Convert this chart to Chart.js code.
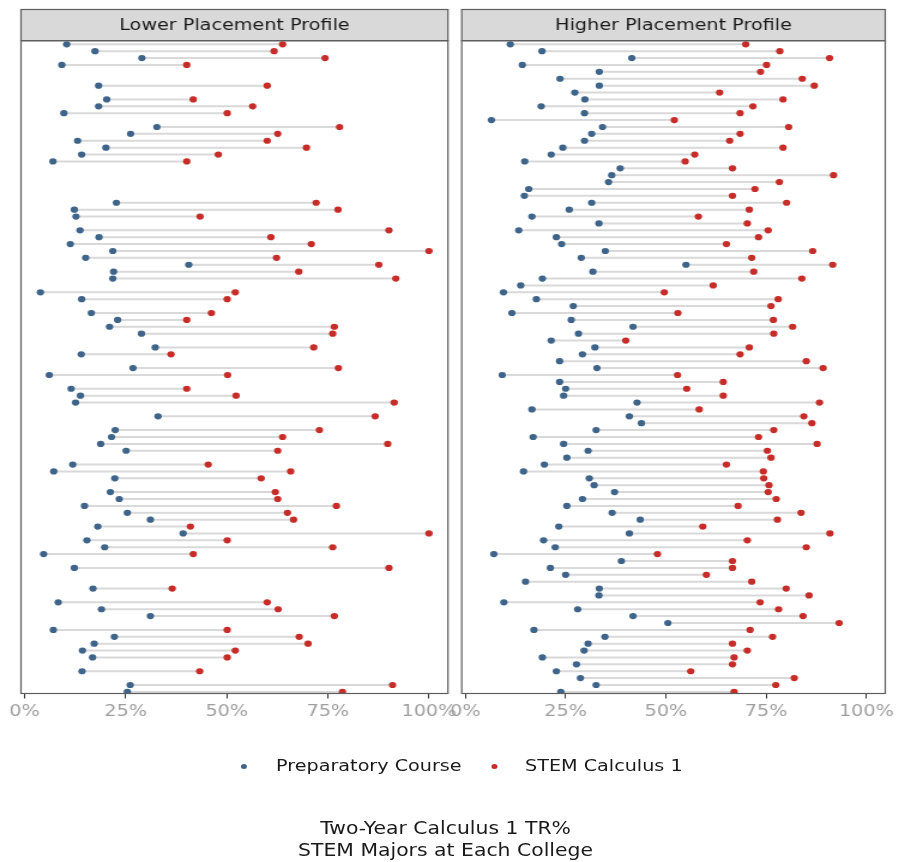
<!DOCTYPE html>
<html>
<head>
<meta charset="utf-8">
<script src="https://cdn.jsdelivr.net/npm/chart.js@4.4.1/dist/chart.umd.min.js"></script>
<style>
html,body{margin:0;padding:0;background:#fff;width:899px;height:862px;overflow:hidden;}
#stage{position:absolute;left:0;top:0;width:750px;height:862px;transform:scaleX(1.1987);transform-origin:0 0;font-family:"DejaVu Sans",sans-serif;color:#1a1a1a;}
canvas{position:absolute;top:0;}
#c1{left:0;width:390px;height:740px;}
#c2{left:365px;width:385px;height:740px;}
.dot{position:absolute;width:5px;height:5px;border-radius:50%;}
.lt{position:absolute;font-size:16px;line-height:20px;white-space:nowrap;}
#cap{position:absolute;left:0;top:817px;width:743.4px;text-align:center;font-size:17px;line-height:22px;}
</style>
</head>
<body>
<div id="stage">
  <canvas id="c1" width="390" height="740"></canvas>
  <canvas id="c2" width="385" height="740"></canvas>
  <div class="dot" style="left:201.1px;top:763.5px;background:#3e648a"></div>
  <div class="lt" style="left:230.3px;top:756px">Preparatory Course</div>
  <div class="dot" style="left:409.6px;top:763.5px;background:#c62d28"></div>
  <div class="lt" style="left:438px;top:756px">STEM Calculus 1</div>
  <div id="cap">Two-Year Calculus 1 TR%<br>STEM Majors at Each College</div>
</div>
<script>
// ---- data (percent), one entry per college row, top to bottom ----
const panelTitles = ["Lower Placement Profile", "Higher Placement Profile"];
const seriesNames = ["Preparatory Course", "STEM Calculus 1"];
const tickValues = [0, 25, 50, 75, 100];

const lowerPrep = [10.4,17.4,29.0,9.2,null,null,18.3,null,20.3,18.3,
  9.7,null,32.7,26.2,13.1,20.1,14.1,7.0,null,null,
  null,null,null,22.7,12.3,12.7,null,13.7,18.4,11.3,
  21.8,15.1,40.6,22.0,21.8,null,3.9,14.1,null,16.5,
  23.0,21.0,28.9,null,32.3,14.0,null,26.8,6.1,null,
  11.5,13.8,12.6,null,33.0,null,22.4,21.5,18.8,25.1,
  null,11.9,7.2,22.3,null,21.2,23.4,14.8,25.4,31.1,
  18.1,39.2,15.4,19.8,4.7,null,12.3,null,null,16.9,
  null,8.3,19.0,31.1,null,7.1,22.2,17.2,14.3,16.8,
  null,14.2,null,26.1,25.4];
const lowerStem = [63.8,61.7,74.3,40.1,null,null,60.0,null,41.7,56.4,
  50.1,null,77.9,62.6,60.0,69.7,47.9,40.1,null,null,
  null,null,null,72.1,77.5,43.4,null,90.1,60.9,70.9,
  100,62.3,87.6,67.8,91.8,null,52.1,50.1,null,46.2,
  40.1,76.6,76.2,null,71.5,36.2,null,77.6,50.2,null,
  40.1,52.3,91.4,null,86.7,null,72.9,63.8,89.8,62.6,
  null,45.4,65.8,58.5,null,62.0,62.6,77.1,65.0,66.5,
  41.0,100,50.1,76.2,41.7,null,90.1,null,null,36.5,
  null,60.0,62.7,76.6,null,50.1,67.9,70.1,52.1,50.1,
  null,43.3,null,91.0,78.6];
const higherPrep = [11.2,19.1,41.5,14.2,33.4,23.6,33.4,27.3,29.8,18.9,
  29.7,6.5,34.2,31.5,29.7,24.3,21.4,14.8,38.6,36.5,
  35.7,15.8,14.7,31.5,25.9,16.6,33.3,13.3,22.7,24.0,
  34.9,28.9,55.0,31.8,19.2,13.8,9.5,17.7,26.9,11.6,
  26.4,41.8,28.2,21.4,32.3,29.2,23.5,32.8,9.2,23.5,
  25.0,24.5,42.8,16.6,40.9,43.9,32.6,16.9,24.5,30.6,
  25.3,19.7,14.5,30.9,32.1,37.2,29.2,25.3,36.6,43.6,
  23.3,40.9,19.5,22.4,7.1,38.9,21.2,25.0,15.0,33.4,
  33.3,9.6,28.0,41.8,50.5,17.1,34.8,30.6,29.6,19.2,
  27.7,22.7,28.7,32.6,23.8];
const higherStem = [69.9,78.4,90.8,75.1,73.6,84.0,87.0,63.4,79.2,71.7,
  68.5,52.1,80.6,68.5,65.9,79.2,57.2,54.8,66.6,91.8,
  78.3,72.2,66.6,80.1,70.8,58.1,70.3,75.5,73.1,65.1,
  86.6,71.4,91.6,71.9,83.9,61.8,49.6,78.0,76.2,53.0,
  76.8,81.6,76.9,40.0,70.8,68.5,85.0,89.2,52.9,64.3,
  55.2,64.3,88.3,58.3,84.4,86.4,76.9,73.1,87.7,75.3,
  76.2,65.1,74.3,74.4,75.7,75.5,77.5,68.0,83.7,77.8,
  59.2,90.9,70.3,85.0,47.9,66.6,66.6,60.1,71.4,80.0,
  85.7,73.5,78.1,84.2,93.2,71.0,76.6,66.6,70.3,67.0,
  66.6,56.2,82.0,77.4,67.0];

// ---- styles ----
const BLUE = '#3e648a', RED = '#c62d28', SEG = '#d9d9d9';
const AREA_TOP = 40.7, AREA_BOTTOM = 693.5, STRIP_TOP = 9.5, CANVAS_H = 740;

const panelDecor = {
  id: 'panelDecor',
  beforeDraw(chart, args, o) {
    const {ctx, chartArea: a} = chart;
    ctx.save();
    ctx.fillStyle = '#ffffff';
    ctx.fillRect(a.left, a.top, a.right - a.left, a.bottom - a.top);
    ctx.fillStyle = '#d9d9d9';
    ctx.fillRect(a.left, STRIP_TOP, a.right - a.left, a.top - STRIP_TOP);
    ctx.strokeStyle = '#5e5e5e';
    ctx.lineWidth = 1.2;
    ctx.strokeRect(a.left, STRIP_TOP, a.right - a.left, a.top - STRIP_TOP);
    ctx.fillStyle = '#1a1a1a';
    ctx.font = '16px "DejaVu Sans"';
    ctx.textAlign = 'center';
    ctx.textBaseline = 'middle';
    ctx.fillText(o.title, (a.left + a.right) / 2, (STRIP_TOP + a.top) / 2 + 1);
    ctx.restore();
  },
  afterDraw(chart) {
    const {ctx, chartArea: a} = chart;
    ctx.save();
    ctx.strokeStyle = '#5e5e5e';
    ctx.lineWidth = 1.2;
    ctx.strokeRect(a.left, a.top, a.right - a.left, a.bottom - a.top);
    ctx.restore();
  }
};

function makePanel(id, title, prep, stem, padL, padR) {
  const seg = [], bluePts = [], redPts = [];
  prep.forEach((p, i) => {
    if (p === null || stem[i] === null) return;
    const row = i + 1;
    seg.push({x: p, y: row}, {x: stem[i], y: row}, {x: null, y: null});
    bluePts.push({x: p, y: row});
    redPts.push({x: stem[i], y: row});
  });
  return new Chart(document.getElementById(id), {
    type: 'scatter',
    data: {
      datasets: [
        {label: seriesNames[1], data: redPts, pointRadius: 3.1, pointBorderWidth: 0, backgroundColor: RED, borderColor: RED, order: 1},
        {label: seriesNames[0], data: bluePts, pointRadius: 3.1, pointBorderWidth: 0, backgroundColor: BLUE, borderColor: BLUE, order: 2},
        {label: 'range', data: seg, showLine: true, spanGaps: false, pointRadius: 0, borderColor: SEG, borderWidth: 2, order: 3}
      ]
    },
    options: {
      responsive: false,
      devicePixelRatio: 1,
      animation: false,
      events: [],
      layout: {padding: {left: padL, right: padR, top: AREA_TOP, bottom: 0}},
      plugins: {legend: {display: false}, tooltip: {enabled: false}, title: {display: false},
        panelDecor: {title: title}},
      scales: {
        x: {
          type: 'linear', position: 'bottom', min: -0.9, max: 104.7,
          afterBuildTicks: s => { s.ticks = tickValues.map(v => ({value: v})); },
          afterFit: s => { s.height = CANVAS_H - AREA_BOTTOM; },
          ticks: {callback: v => v + '%', color: '#9e9e9e', padding: 4, maxRotation: 0,
            font: {family: 'DejaVu Sans', size: 16}},
          grid: {drawOnChartArea: false, drawTicks: true, tickLength: 5, color: '#333333', lineWidth: 1},
          border: {display: false}
        },
        y: {type: 'linear', reverse: true, min: 0.477, max: 95.232, display: false}
      }
    },
    plugins: [panelDecor]
  });
}

makePanel('c1', panelTitles[0], lowerPrep, lowerStem, 17.5, 16.3);
makePanel('c2', panelTitles[1], higherPrep, higherStem, 20.2, 7.5);
</script>
</body>
</html>
